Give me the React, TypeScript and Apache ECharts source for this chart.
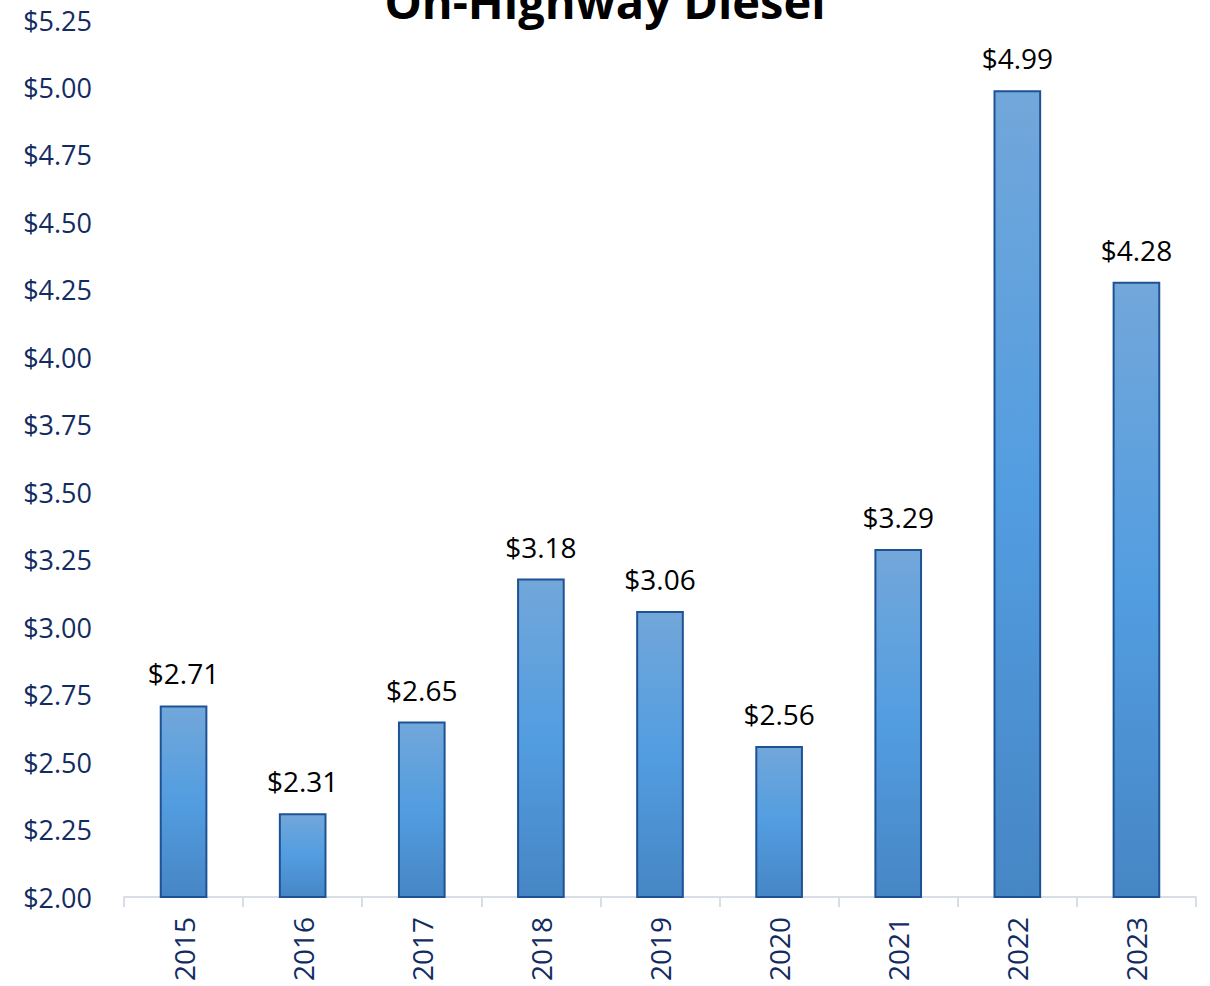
import React, { useEffect, useRef } from "react";
import * as echarts from "echarts";

// Average on-highway diesel price per year (USD per gallon)
const years = ["2015", "2016", "2017", "2018", "2019", "2020", "2021", "2022", "2023"];
const prices = [2.71, 2.31, 2.65, 3.18, 3.06, 2.56, 3.29, 4.99, 4.28];

const axisMin = 2;
const axisMax = 5.25;
const axisStep = 0.25;

const FONT = "'Open Sans', 'Noto Sans', sans-serif";
const NAVY = "#122c62";

export default function App() {
  const ref = useRef<HTMLDivElement>(null);

  useEffect(() => {
    if (!ref.current) return;
    const chart = echarts.init(ref.current, null, { renderer: "svg" });
    chart.setOption({
      animation: false,
      backgroundColor: "#ffffff",
      title: {
        text: "On-Highway Diesel",
        left: "center",
        top: -28,
        textStyle: { fontFamily: FONT, fontWeight: "bold", fontSize: 47, color: "#000000" },
      },
      grid: { left: 124, right: 14, top: 20, bottom: 89, containLabel: false },
      xAxis: {
        type: "category",
        data: years,
        axisLine: { show: true, lineStyle: { color: "#d9dee6", width: 2 } },
        axisTick: { show: true, alignWithLabel: false, length: 10, lineStyle: { color: "#d9dee6", width: 2 } },
        axisLabel: { rotate: 90, margin: 20, color: NAVY, fontFamily: FONT, fontSize: 28 },
      },
      yAxis: {
        type: "value",
        min: axisMin,
        max: axisMax,
        interval: axisStep,
        axisLine: { show: false },
        axisTick: { show: false },
        splitLine: { show: false },
        axisLabel: {
          color: NAVY,
          fontFamily: FONT,
          fontSize: 27,
          margin: 32,
          formatter: (v: number) => "$" + v.toFixed(2),
        },
      },
      series: [
        {
          type: "bar",
          data: prices,
          barWidth: "40%",
          itemStyle: {
            borderColor: "#1f5294",
            borderWidth: 2,
            color: new echarts.graphic.LinearGradient(0, 0, 0, 1, [
              { offset: 0, color: "#72a7da" },
              { offset: 0.5, color: "#529de0" },
              { offset: 1, color: "#4686c5" },
            ]),
          },
          label: {
            show: true,
            position: "top",
            distance: 18,
            color: "#000000",
            fontFamily: FONT,
            fontSize: 28,
            formatter: (p: any) => "$" + Number(p.value).toFixed(2),
          },
        },
      ],
    });
    return () => chart.dispose();
  }, []);

  return <div ref={ref} style={{ width: 1210, height: 986, position: "absolute", left: 0, top: 0 }} />;
}
